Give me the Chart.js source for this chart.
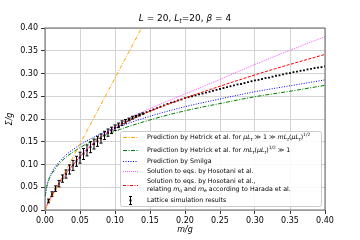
<!DOCTYPE html>
<html>
<head>
<meta charset="utf-8">
<script src="https://cdn.jsdelivr.net/npm/chart.js@4/dist/chart.umd.min.js"></script>
<style>
  html, body { margin: 0; padding: 0; background: #fff; }
  #wrap { width: 360px; height: 240px; }
</style>
</head>
<body>
<div id="wrap"><canvas id="condensateChart" width="360" height="240"></canvas></div>
<script>
// m/g grid for the analytic curves
var mSmall = [0.0005, 0.001, 0.002, 0.005, 0.01, 0.02, 0.03, 0.05, 0.075, 0.1, 0.15, 0.2, 0.25, 0.3, 0.35, 0.4];
var hetrickLargeSigma = [0.030, 0.037, 0.047, 0.064, 0.080, 0.101, 0.116, 0.137, 0.157, 0.173, 0.198, 0.218, 0.234, 0.249, 0.261, 0.274];
var smilgaSigma = [0.031, 0.039, 0.049, 0.066, 0.084, 0.105, 0.121, 0.143, 0.164, 0.180, 0.206, 0.227, 0.244, 0.260, 0.273, 0.286];

var hetrickSmallM = [0, 0.14];
var hetrickSmallSigma = [0, 0.406];

var mHosotani = [0, 0.005, 0.01, 0.02, 0.03, 0.04, 0.05, 0.06, 0.07, 0.08, 0.1, 0.125, 0.15, 0.2, 0.25, 0.3, 0.35, 0.4];
var hosotaniSigma = [0, 0.018, 0.033, 0.058, 0.080, 0.100, 0.119, 0.135, 0.149, 0.162, 0.184, 0.205, 0.223, 0.255, 0.287, 0.320, 0.351, 0.381];
var haradaSigma = [0, 0.018, 0.033, 0.058, 0.080, 0.099, 0.117, 0.133, 0.147, 0.160, 0.180, 0.200, 0.217, 0.246, 0.272, 0.297, 0.320, 0.342];

// lattice results
var latticeM = [0.005, 0.01, 0.015, 0.02, 0.025, 0.03, 0.035, 0.04, 0.045, 0.05,
  0.055, 0.06, 0.065, 0.07, 0.075, 0.08, 0.085, 0.09, 0.095, 0.1,
  0.105, 0.11, 0.115, 0.12, 0.125, 0.13, 0.135, 0.14, 0.145, 0.15,
  0.155, 0.16, 0.165, 0.17, 0.175, 0.18, 0.185, 0.19, 0.195, 0.2,
  0.205, 0.21, 0.215, 0.22, 0.225, 0.23, 0.235, 0.24, 0.245, 0.25,
  0.255, 0.26, 0.265, 0.27, 0.275, 0.28, 0.285, 0.29, 0.295, 0.3,
  0.305, 0.31, 0.315, 0.32, 0.325, 0.33, 0.335, 0.34, 0.345, 0.35,
  0.355, 0.36, 0.365, 0.37, 0.375, 0.38, 0.385, 0.39, 0.395, 0.4];
var latticeSigma = [0.020, 0.035, 0.047, 0.058, 0.069, 0.079, 0.089, 0.098, 0.107, 0.115,
  0.123, 0.131, 0.138, 0.145, 0.151, 0.157, 0.164, 0.170, 0.175, 0.181,
  0.186, 0.191, 0.195, 0.199, 0.203, 0.206, 0.209, 0.212, 0.215, 0.218,
  0.221, 0.224, 0.227, 0.230, 0.233, 0.236, 0.238, 0.241, 0.243, 0.246,
  0.248, 0.250, 0.252, 0.254, 0.256, 0.258, 0.260, 0.262, 0.264, 0.266,
  0.268, 0.270, 0.272, 0.274, 0.276, 0.277, 0.279, 0.281, 0.283, 0.285,
  0.286, 0.288, 0.290, 0.291, 0.293, 0.295, 0.296, 0.298, 0.300, 0.301,
  0.303, 0.304, 0.306, 0.307, 0.309, 0.310, 0.312, 0.313, 0.314, 0.316];
var latticeErr = [0.004, 0.005, 0.006, 0.007, 0.008, 0.009, 0.010, 0.011, 0.011, 0.012,
  0.012, 0.012, 0.012, 0.011, 0.011, 0.010, 0.009, 0.008, 0.007, 0.006,
  0.005, 0.005, 0.004, 0.003, 0.003, 0.002, 0.002, 0.001, 0, 0,
  0, 0, 0, 0, 0, 0, 0, 0, 0, 0,
  0, 0, 0, 0, 0, 0, 0, 0, 0, 0,
  0, 0, 0, 0, 0, 0, 0, 0, 0, 0,
  0, 0, 0, 0, 0, 0, 0, 0, 0, 0,
  0, 0, 0, 0, 0, 0, 0, 0, 0, 0];

var axisTicks = [0, 0.05, 0.1, 0.15, 0.2, 0.25, 0.3, 0.35, 0.4];

var FONT = "'DejaVu Sans', sans-serif";

function pairs(xs, ys) {
  return xs.map(function (x, i) { return { x: x, y: ys[i] }; });
}

// draws a run of text pieces (normal / italic / subscript / superscript)
function drawRich(ctx, segs, x, y, size, align) {
  function fontFor(s) {
    var sz = (s.sub || s.sup) ? size * 0.7 : size;
    return (s.it ? 'italic ' : '') + sz + 'px ' + FONT;
  }
  var total = 0;
  segs.forEach(function (s) { ctx.font = fontFor(s); total += ctx.measureText(s.t).width; });
  var cx = align === 'center' ? x - total / 2 : x;
  ctx.textAlign = 'left';
  ctx.textBaseline = 'middle';
  segs.forEach(function (s) {
    ctx.font = fontFor(s);
    var dy = s.sub ? size * 0.3 : (s.sup ? -size * 0.35 : 0);
    ctx.fillText(s.t, cx, y + dy);
    cx += ctx.measureText(s.t).width;
  });
}

var legendRows = [
  { color: '#ffa500', dash: [4, 1.5, 1, 1.5], lines: [[
    { t: 'Prediction by Hetrick et al. for ' }, { t: 'μL', it: true }, { t: 't', it: true, sub: true },
    { t: ' ≫ 1 ≫ ' }, { t: 'mL', it: true }, { t: 't', it: true, sub: true }, { t: '(' },
    { t: 'μL', it: true }, { t: 't', it: true, sub: true }, { t: ')' }, { t: '1/2', sup: true }]] },
  { color: '#008000', dash: [4, 1.5, 1, 1.5], lines: [[
    { t: 'Prediction by Hetrick et al. for ' }, { t: 'mL', it: true }, { t: 't', it: true, sub: true },
    { t: '(' }, { t: 'μL', it: true }, { t: 't', it: true, sub: true }, { t: ')' },
    { t: '1/2', sup: true }, { t: ' ≫ 1' }]] },
  { color: '#0000ff', dash: [1, 1.5], lines: [[{ t: 'Prediction by Smilga' }]] },
  { color: '#ff55ff', dash: [1, 1], lines: [[{ t: 'Solution to eqs. by Hosotani et al.' }]] },
  { color: '#ff0000', dash: [3, 1.5, 1, 1.5], lines: [
    [{ t: 'Solution to eqs. by Hosotani et al.,' }],
    [{ t: 'relating ' }, { t: 'm', it: true }, { t: 'q', it: true, sub: true }, { t: ' and ' },
     { t: 'm', it: true }, { t: 'e', it: true, sub: true }, { t: ' according to Harada et al.' }]] },
  { errorbar: true, lines: [[{ t: 'Lattice simulation results' }]] }
];

var decorPlugin = {
  id: 'decor',
  afterDatasetsDraw: function (chart) {
    var ctx = chart.ctx, xs = chart.scales.x, ys = chart.scales.y;
    ctx.save();
    ctx.strokeStyle = '#000';
    ctx.lineWidth = 1;
    latticeM.forEach(function (m, i) {
      var e = latticeErr[i];
      if (!e) return;
      var px = xs.getPixelForValue(m);
      var top = ys.getPixelForValue(latticeSigma[i] + e);
      var bot = ys.getPixelForValue(latticeSigma[i] - e);
      ctx.beginPath();
      ctx.moveTo(px, top); ctx.lineTo(px, bot);
      ctx.moveTo(px - 1.5, top); ctx.lineTo(px + 1.5, top);
      ctx.moveTo(px - 1.5, bot); ctx.lineTo(px + 1.5, bot);
      ctx.stroke();
    });
    ctx.restore();
  },
  afterDraw: function (chart) {
    var ctx = chart.ctx, a = chart.chartArea;
    ctx.save();
    // frame
    ctx.strokeStyle = '#666';
    ctx.lineWidth = 1;
    ctx.strokeRect(a.left, a.top, a.right - a.left, a.bottom - a.top);

    ctx.fillStyle = '#000';
    drawRich(ctx, [{ t: 'L', it: true }, { t: ' = 20, ' }, { t: 'L', it: true }, { t: 't', it: true, sub: true },
      { t: '=20, ' }, { t: 'β', it: true }, { t: ' = 4' }], (a.left + a.right) / 2, 19, 9, 'center');
    drawRich(ctx, [{ t: 'm/g', it: true }], (a.left + a.right) / 2, 230, 8, 'center');
    ctx.save();
    ctx.translate(10, (a.top + a.bottom) / 2);
    ctx.rotate(-Math.PI / 2);
    drawRich(ctx, [{ t: 'Σ/g', it: true }], 0, 0, 8, 'center');
    ctx.restore();

    // legend
    var bw = 201, bh = 75;
    var bx = a.right - 4 - bw, by = a.bottom - 4 - bh;
    ctx.fillStyle = 'rgba(255,255,255,0.85)';
    ctx.strokeStyle = '#ccc';
    ctx.lineWidth = 1;
    ctx.beginPath();
    ctx.roundRect(bx + 0.5, by + 0.5, bw, bh, 2);
    ctx.fill();
    ctx.stroke();
    var rowY = [137, 150, 161, 171, 185, 200];
    legendRows.forEach(function (row, i) {
      var cy = rowY[i];
      var ly = cy + 0.5;
      if (row.errorbar) {
        ctx.strokeStyle = '#000';
        ctx.lineWidth = 1;
        ctx.setLineDash([]);
        ctx.beginPath();
        ctx.moveTo(130.5, cy - 4); ctx.lineTo(130.5, cy + 5);
        ctx.moveTo(129, cy - 3.5); ctx.lineTo(132, cy - 3.5);
        ctx.moveTo(129, cy + 4.5); ctx.lineTo(132, cy + 4.5);
        ctx.stroke();
        ctx.fillStyle = '#000';
        ctx.fillRect(129.5, cy - 0.5, 2, 2);
      } else {
        ctx.strokeStyle = row.color;
        ctx.lineWidth = 1.2;
        ctx.setLineDash(row.dash);
        ctx.beginPath();
        ctx.moveTo(123, ly); ctx.lineTo(138, ly);
        ctx.stroke();
        ctx.setLineDash([]);
      }
      ctx.fillStyle = '#000';
      if (row.lines.length === 1) {
        drawRich(ctx, row.lines[0], 147, cy + 0.5, 6.3, 'left');
      } else {
        drawRich(ctx, row.lines[0], 147, cy - 3.5, 6.3, 'left');
        drawRich(ctx, row.lines[1], 147, cy + 4.3, 6.3, 'left');
      }
    });
    ctx.restore();
  }
};

function curve(data, color, dash) {
  return {
    data: data,
    showLine: true,
    borderColor: color,
    borderWidth: 1,
    borderDash: dash,
    pointRadius: 0,
    cubicInterpolationMode: 'monotone',
    fill: false
  };
}

var canvas = document.getElementById('condensateChart');
var condensateChart = new Chart(canvas, {
  type: 'scatter',
  data: {
    datasets: [
      curve(pairs(hetrickSmallM, hetrickSmallSigma), '#ffa500', [4, 1.5, 1, 1.5]),
      curve(pairs(mSmall, hetrickLargeSigma), '#008000', [4, 1.5, 1, 1.5]),
      curve(pairs(mSmall, smilgaSigma), '#0000ff', [1, 1.5]),
      curve(pairs(mHosotani, hosotaniSigma), '#ff55ff', [1, 1]),
      curve(pairs(mHosotani, haradaSigma), '#ff0000', [3, 1.5]),
      {
        data: pairs(latticeM, latticeSigma),
        showLine: false,
        pointStyle: 'rect',
        pointRadius: 1.3,
        backgroundColor: '#000',
        borderColor: '#000',
        borderWidth: 0
      }
    ]
  },
  options: {
    responsive: false,
    animation: false,
    devicePixelRatio: 1,
    layout: { padding: { left: 0, top: 28, right: 35, bottom: 0 } },
    plugins: {
      legend: { display: false },
      tooltip: { enabled: false },
      title: { display: false }
    },
    scales: {
      x: {
        type: 'linear',
        min: 0,
        max: 0.4,
        afterFit: function (scale) { scale.height = 30; },
        afterBuildTicks: function (scale) { scale.ticks = axisTicks.map(function (v) { return { value: v }; }); },
        ticks: {
          font: { family: FONT, size: 8 },
          color: '#000',
          padding: 2,
          maxRotation: 0,
          callback: function (v) { return v.toFixed(2); }
        },
        grid: { color: '#d3d3d3', lineWidth: 1, tickLength: 4, tickColor: '#333' },
        border: { display: false }
      },
      y: {
        type: 'linear',
        min: 0,
        max: 0.4,
        afterFit: function (scale) { scale.width = 45; },
        afterBuildTicks: function (scale) { scale.ticks = axisTicks.map(function (v) { return { value: v }; }); },
        ticks: {
          font: { family: FONT, size: 8 },
          color: '#000',
          padding: 3,
          callback: function (v) { return v.toFixed(2); }
        },
        grid: { color: '#d3d3d3', lineWidth: 1, tickLength: 4, tickColor: '#333' },
        border: { display: false }
      }
    }
  },
  plugins: [decorPlugin]
});
</script>
</body>
</html>
